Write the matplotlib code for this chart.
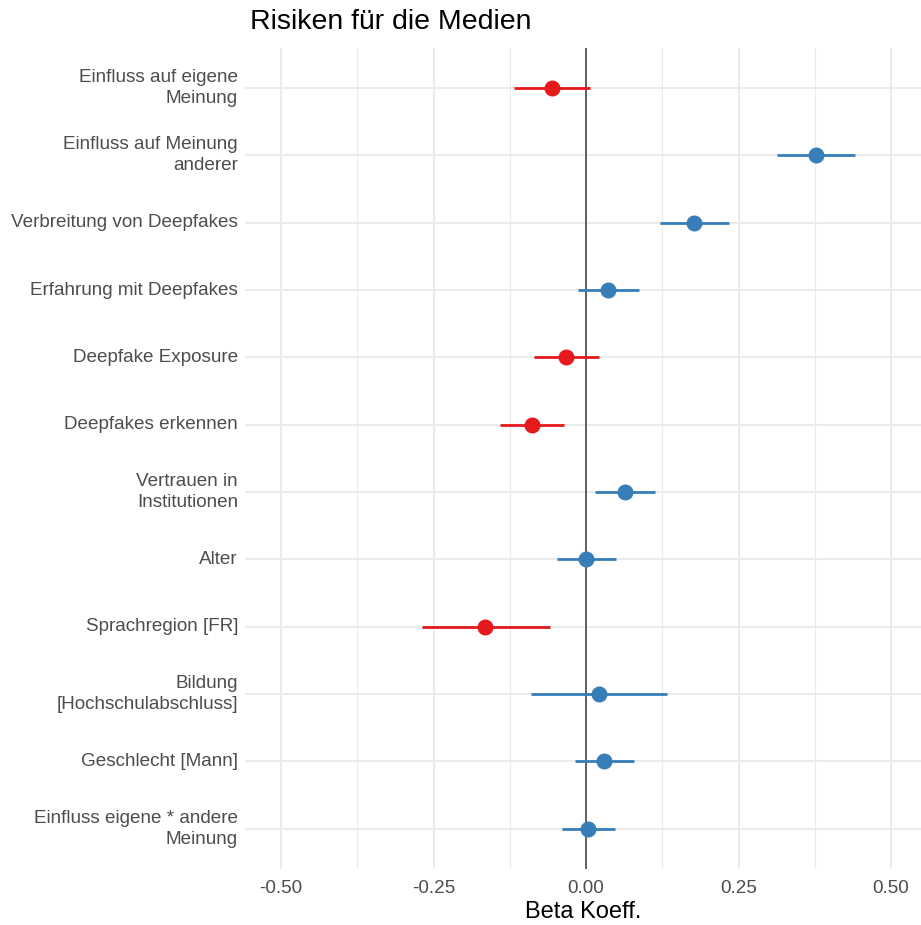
import matplotlib
matplotlib.use("Agg")
import matplotlib.pyplot as plt
import numpy as np

labels = [
    "Einfluss auf eigene\nMeinung",
    "Einfluss auf Meinung\nanderer",
    "Verbreitung von Deepfakes",
    "Erfahrung mit Deepfakes",
    "Deepfake Exposure",
    "Deepfakes erkennen",
    "Vertrauen in\nInstitutionen",
    "Alter",
    "Sprachregion [FR]",
    "Bildung\n[Hochschulabschluss]",
    "Geschlecht [Mann]",
    "Einfluss eigene * andere\nMeinung",
]
estimates = [-0.056, 0.377, 0.177, 0.036, -0.033, -0.089, 0.064, 0.000, -0.166, 0.021, 0.030, 0.003]
ci_low = [-0.118, 0.313, 0.121, -0.013, -0.085, -0.141, 0.015, -0.048, -0.269, -0.090, -0.018, -0.039]
ci_high = [0.007, 0.441, 0.234, 0.087, 0.021, -0.036, 0.113, 0.049, -0.059, 0.133, 0.079, 0.048]

red = "#e41a1c"
blue = "#377eb8"

plt.rcParams['font.family'] = ['Liberation Sans', 'DejaVu Sans']

fig = plt.figure(figsize=(9.21, 9.25), dpi=100)
ax = fig.add_axes([0.266, 0.0605, 0.734, 0.888])

n = len(labels)
ys = np.arange(n, 0, -1)

for y, e, lo, hi in zip(ys, estimates, ci_low, ci_high):
    c = red if e < 0 else blue
    ax.plot([lo, hi], [y, y], color=c, lw=2.0, solid_capstyle='butt', zorder=3)
    ax.plot([e], [y], 'o', color=c, markersize=10.5, zorder=4)

ax.axvline(0, color="#555555", lw=1.3, zorder=2)

ax.set_xlim(-0.559, 0.549)
ax.set_ylim(0.4, n + 0.6)
ax.set_xticks([-0.5, -0.25, 0, 0.25, 0.5])
ax.set_xticklabels(["-0.50", "-0.25", "0.00", "0.25", "0.50"])
ax.set_xticks([-0.375, -0.125, 0.125, 0.375], minor=True)
ax.set_yticks(ys)
ax.set_yticklabels(labels, ha='right', va='center', linespacing=1.3)

ax.grid(True, which='major', color="#ebebeb", lw=1.4, zorder=0)
ax.grid(True, which='minor', axis='x', color="#ebebeb", lw=0.8, zorder=0)
ax.set_axisbelow(True)
for s in ax.spines.values():
    s.set_visible(False)
ax.tick_params(which='both', length=0)
ax.tick_params(axis='both', labelsize=13.6, labelcolor="#4d4d4d")
ax.tick_params(axis='y', pad=5)
ax.tick_params(axis='x', pad=8)

ax.set_xlabel("Beta Koeff.", fontsize=17, color="black", labelpad=3)
fig.text(0.271, 0.976, "Risiken für die Medien", fontsize=20.5, ha='left', va='center', color="black")

fig.savefig("out.png", dpi=100)
